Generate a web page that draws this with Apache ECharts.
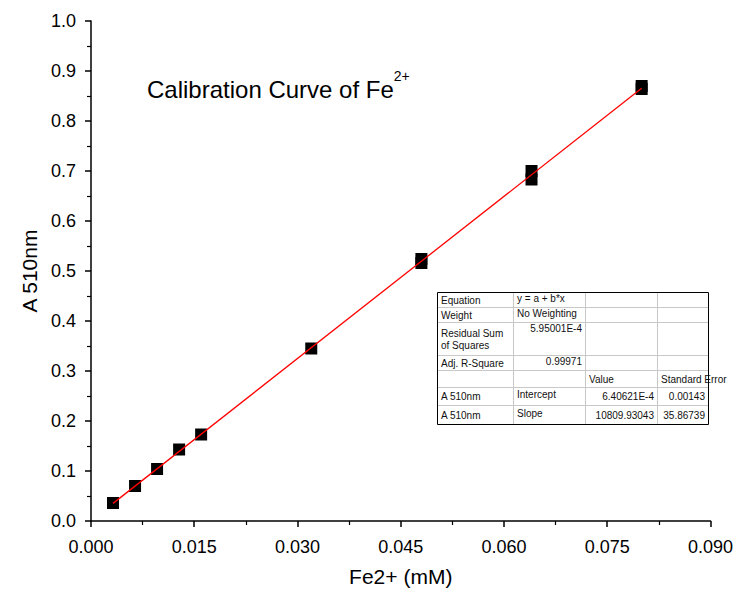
<!DOCTYPE html>
<html>
<head>
<meta charset="utf-8">
<script src="https://cdn.jsdelivr.net/npm/echarts@6/dist/echarts.min.js"></script>
<style>
html,body{margin:0;padding:0;background:#fff;}
#c{width:736px;height:593px;}
</style>
</head>
<body>
<div id="c"></div>
<script>
// Measured data (Fe2+ concentration in mM, absorbance at 510 nm)
var concX = [0.0032, 0.0064, 0.0096, 0.0128, 0.016, 0.032, 0.048, 0.048, 0.064, 0.064, 0.080, 0.080];
var absY  = [0.036, 0.070, 0.104, 0.143, 0.173, 0.345, 0.516, 0.524, 0.700, 0.683, 0.864, 0.870];
// Linear fit results (from the fit table)
var fitIntercept = 6.40621e-4;
var fitSlopePerM = 10809.93043;
var fitRangeX = [0.0032, 0.080];
// Tick settings
var xTicks = [0, 0.015, 0.03, 0.045, 0.06, 0.075, 0.09];
var yTicks = [0, 0.1, 0.2, 0.3, 0.4, 0.5, 0.6, 0.7, 0.8, 0.9, 1.0];
// Fit table text
var tableRows = [
  ['Equation', 'y = a + b*x', '', ''],
  ['Weight', 'No Weighting', '', ''],
  ['Residual Sum\nof Squares', '5.95001E-4', '', ''],
  ['Adj. R-Square', '0.99971', '', ''],
  ['', '', 'Value', 'Standard Error'],
  ['A 510nm', 'Intercept', '6.40621E-4', '0.00143'],
  ['A 510nm', 'Slope', '10809.93043', '35.86739']
];

var scatterData = concX.map(function (x, i) { return [x, absY[i]]; });
var fitData = fitRangeX.map(function (x) { return [x, fitIntercept + fitSlopePerM / 1000 * x]; });

// table layout
var colX = [437, 513, 585, 657, 708];
var rowY = [292, 307, 322, 355, 370, 387, 405, 424];
var cellAlign = [
  ['l','lt','',''],
  ['l','lt','',''],
  ['l2','rt','',''],
  ['l','rt','',''],
  ['','','l','l'],
  ['l','lt','r','r'],
  ['l','lt','r','r']
];
var graphics = [];
var font = '10px "Liberation Sans", Arial, sans-serif';
for (var r = 1; r < rowY.length - 1; r++) {
  graphics.push({type:'line', silent:true, shape:{x1:colX[0], y1:rowY[r]+0.5, x2:colX[colX.length-1], y2:rowY[r]+0.5}, style:{stroke:'#c8c8c8', lineWidth:1}});
}
for (var c = 1; c < colX.length - 1; c++) {
  graphics.push({type:'line', silent:true, shape:{x1:colX[c]+0.5, y1:rowY[0], x2:colX[c]+0.5, y2:rowY[rowY.length-1]}, style:{stroke:'#c8c8c8', lineWidth:1}});
}
graphics.push({type:'rect', silent:true, shape:{x:colX[0]+0.5, y:rowY[0]+0.5, width:colX[4]-colX[0], height:rowY[7]-rowY[0]}, style:{fill:'none', stroke:'#000', lineWidth:1}, z:10});
for (var r = 0; r < tableRows.length; r++) {
  for (var c = 0; c < 4; c++) {
    var t = tableRows[r][c];
    if (!t) continue;
    var a = cellAlign[r][c];
    var x0 = colX[c], x1 = colX[c+1], y0 = rowY[r], y1 = rowY[r+1];
    var right = a.charAt(0) === 'r';
    var topish = a.indexOf('t') >= 0;
    var cy = topish ? (y0 + y1) / 2 - 1.5 : (y0 + y1) / 2 + 0.5;
    if (a === 'l2') {
      graphics.push({type:'text', silent:true, x: x0 + 4, y: y0 + 5, style:{text:t, font:font, fill:'#111', textAlign:'left', textVerticalAlign:'top', lineHeight:12}});
    } else {
      graphics.push({type:'text', silent:true, x: right ? x1 - 3 : x0 + 4, y: (a === 'rt' && r === 2) ? y0 + 6 : cy, style:{text:t, font:font, fill:'#111', textAlign: right ? 'right' : 'left', textVerticalAlign:'middle'}});
    }
  }
}
// chart title
graphics.push({type:'text', silent:true, left:147, top:69, style:{
  text:'{m|Calibration Curve of Fe}{s|2+}',
  rich:{
    m:{fontSize:24, fontFamily:'"Liberation Sans", Arial, sans-serif', fill:'#000', color:'#000', lineHeight:32, verticalAlign:'bottom'},
    s:{fontSize:14, fontFamily:'"Liberation Sans", Arial, sans-serif', fill:'#000', color:'#000', lineHeight:15, verticalAlign:'top'}
  }
}});

var chart = echarts.init(document.getElementById('c'), null, {renderer:'svg'});
var axisFont = '"Liberation Sans", Arial, sans-serif';
chart.setOption({
  animation:false,
  backgroundColor:'#fff',
  grid:{left:91, right:23, top:21, bottom:72},
  xAxis:{
    type:'value', min:xTicks[0], max:xTicks[xTicks.length-1], interval:xTicks[1]-xTicks[0],
    name:'Fe2+ (mM)', nameLocation:'middle', nameGap:45,
    nameTextStyle:{fontSize:21, color:'#000', fontFamily:axisFont},
    axisLine:{show:true, onZero:false, lineStyle:{color:'#000', width:1.5}},
    axisTick:{show:true, inside:false, length:6, lineStyle:{color:'#000', width:1.5}},
    minorTick:{show:true, splitNumber:2, length:4, lineStyle:{color:'#000', width:1.2}},
    splitLine:{show:false},
    axisLabel:{fontSize:18, color:'#000', fontFamily:axisFont, margin:17, formatter:function(v){return v.toFixed(3);}}
  },
  yAxis:{
    type:'value', min:yTicks[0], max:yTicks[yTicks.length-1], interval:yTicks[1]-yTicks[0],
    name:'A 510nm', nameLocation:'middle', nameGap:50,
    nameTextStyle:{fontSize:21, color:'#000', fontFamily:axisFont},
    axisLine:{show:true, onZero:false, lineStyle:{color:'#000', width:1.5}},
    axisTick:{show:true, inside:false, length:6, lineStyle:{color:'#000', width:1.5}},
    minorTick:{show:true, splitNumber:2, length:4, lineStyle:{color:'#000', width:1.2}},
    splitLine:{show:false},
    axisLabel:{fontSize:18, color:'#000', fontFamily:axisFont, margin:15, formatter:function(v){return v.toFixed(1);}}
  },
  series:[
    {type:'scatter', data:scatterData, symbol:'rect', symbolSize:12, itemStyle:{color:'#000', borderWidth:0, opacity:1}, z:2},
    {type:'line', data:fitData, showSymbol:false, symbol:'none', lineStyle:{color:'#ff0000', width:1.3}, z:3}
  ],
  graphic:graphics
});
</script>
</body>
</html>
